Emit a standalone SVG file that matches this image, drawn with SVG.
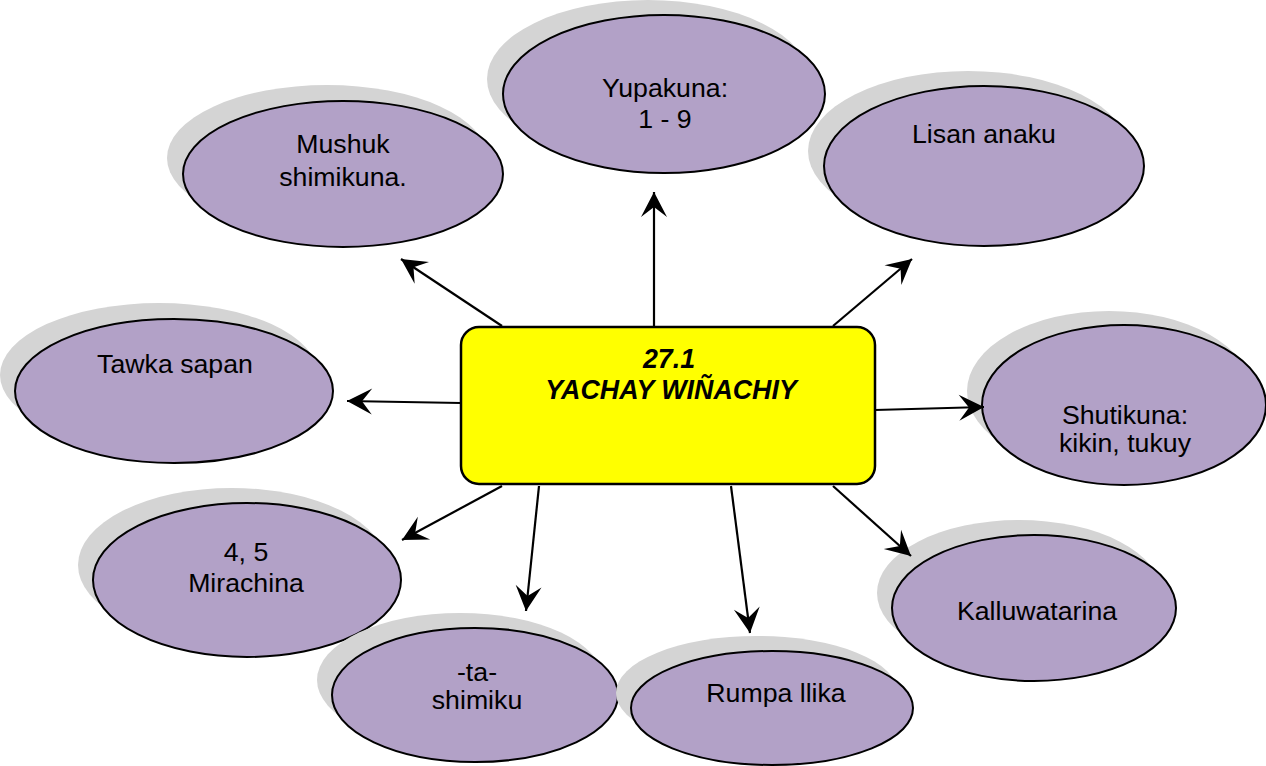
<svg xmlns="http://www.w3.org/2000/svg" width="1266" height="766" viewBox="0 0 1266 766">
<style>
.sh{fill:#d4d4d4;stroke:none}
.el{fill:#b2a1c7;stroke:#000;stroke-width:2}
.t{font-family:"Liberation Sans",Arial,sans-serif;font-size:26.7px;fill:#000;text-anchor:middle}
.title{font-family:"Liberation Sans",Arial,sans-serif;font-size:26.8px;font-weight:bold;font-style:italic;fill:#000;text-anchor:middle}
.c{stroke:#000;stroke-width:2.2;fill:none;marker-end:url(#ah)}
</style>
<defs>
<marker id="ah" markerUnits="userSpaceOnUse" viewBox="-26 -14 28 28" refX="0" refY="0" markerWidth="28" markerHeight="28" orient="auto">
<path d="M0,0 L-25,-13 L-15,0 L-25,13 Z" fill="#000"/>
</marker>
</defs>
<rect width="1266" height="766" fill="#fff"/>
<g id="n-mushuk">
<ellipse class="sh" cx="327" cy="158" rx="160" ry="73"/>
<ellipse class="el" cx="343" cy="174" rx="160" ry="73"/>
<text class="t" x="343" y="153">Mushuk</text>
<text class="t" x="343" y="186">shimikuna.</text>
</g>
<g id="n-yupakuna">
<ellipse class="sh" cx="648" cy="79" rx="161" ry="79"/>
<ellipse class="el" cx="664" cy="94" rx="161" ry="79"/>
<text class="t" x="665" y="97">Yupakuna:</text>
<text class="t" x="665" y="128">1 - 9</text>
</g>
<g id="n-lisan">
<ellipse class="sh" cx="968" cy="151" rx="160" ry="80"/>
<ellipse class="el" cx="984" cy="166" rx="160" ry="80"/>
<text class="t" x="984" y="143">Lisan anaku</text>
</g>
<g id="n-tawka">
<ellipse class="sh" cx="159" cy="375" rx="159" ry="72"/>
<ellipse class="el" cx="174" cy="391" rx="159" ry="72"/>
<text class="t" x="175" y="373">Tawka sapan</text>
</g>
<g id="n-shutikuna">
<ellipse class="sh" cx="1109" cy="391" rx="142" ry="80"/>
<ellipse class="el" cx="1124" cy="405" rx="142" ry="80"/>
<text class="t" x="1125" y="424">Shutikuna:</text>
<text class="t" x="1125" y="452">kikin, tukuy</text>
</g>
<g id="n-mirachina">
<ellipse class="sh" cx="232" cy="565" rx="154" ry="77"/>
<ellipse class="el" cx="247" cy="580" rx="154" ry="77"/>
<text class="t" x="246" y="561">4, 5</text>
<text class="t" x="246" y="592">Mirachina</text>
</g>
<g id="n-ta">
<ellipse class="sh" cx="460" cy="680" rx="143" ry="67"/>
<ellipse class="el" cx="475" cy="695" rx="143" ry="67"/>
<text class="t" x="477" y="681">-ta-</text>
<text class="t" x="477" y="709">shimiku</text>
</g>
<g id="n-rumpa">
<ellipse class="sh" cx="757" cy="693" rx="141" ry="57"/>
<ellipse class="el" cx="772" cy="708" rx="141" ry="57"/>
<text class="t" x="776" y="702">Rumpa llika</text>
</g>
<g id="n-kalluwatarina">
<ellipse class="sh" cx="1019" cy="593" rx="142" ry="73"/>
<ellipse class="el" cx="1034" cy="608" rx="142" ry="73"/>
<text class="t" x="1037" y="620">Kalluwatarina</text>
</g>
<g id="connectors">
<line class="c" x1="654" y1="327" x2="654" y2="192"/>
<line class="c" x1="502" y1="326" x2="401" y2="259"/>
<line class="c" x1="833" y1="326" x2="912" y2="259"/>
<line class="c" x1="461" y1="403" x2="347" y2="401"/>
<line class="c" x1="875" y1="410" x2="984" y2="407"/>
<line class="c" x1="502" y1="486" x2="402" y2="540"/>
<line class="c" x1="539" y1="486" x2="526" y2="611"/>
<line class="c" x1="731" y1="486" x2="750" y2="633"/>
<line class="c" x1="833" y1="486" x2="911" y2="556"/>
</g>
<g id="n-center">
<rect x="461" y="327" width="414" height="157" rx="18" ry="18" fill="#ffff00" stroke="#000" stroke-width="2.5"/>
<text class="title" x="669" y="368">27.1</text>
<text class="title" x="671" y="399">YACHAY WIÑACHIY</text>
</g>
</svg>
